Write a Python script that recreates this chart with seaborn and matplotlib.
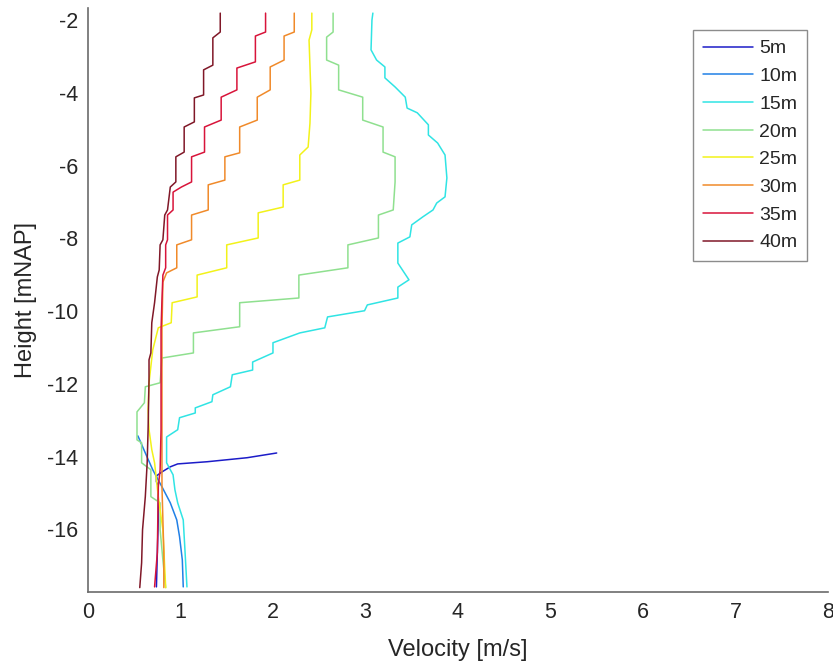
import numpy as np
import pandas as pd
import matplotlib
matplotlib.use("Agg")
import matplotlib.pyplot as plt
import seaborn as sns

# ---- data: velocity [m/s] vs height [mNAP] for each distance ----
series_names = ["5m", "10m", "15m", "20m", "25m", "30m", "35m", "40m"]

v_5m = [2.04, 1.72, 1.29, 0.97, 0.89, 0.80, 0.74, 0.74, 0.76, 0.76, 0.75, 0.74]
h_5m = [-13.90, -14.03, -14.14, -14.20, -14.28, -14.42, -14.53, -14.69, -14.80, -15.74, -16.64, -17.58]

v_10m = [0.54, 0.62, 0.70, 0.80, 0.89, 0.96, 0.99, 1.02, 1.03]
h_10m = [-13.43, -13.90, -14.36, -14.83, -15.27, -15.74, -16.20, -16.84, -17.58]

v_15m = [3.08, 3.07, 3.06, 3.12, 3.21, 3.21, 3.32, 3.43, 3.45, 3.56, 3.68, 3.68, 3.78, 3.86,
         3.88, 3.86, 3.77, 3.73, 3.62, 3.50, 3.48, 3.35, 3.35, 3.47, 3.35, 3.35, 3.02, 2.99,
         2.59, 2.56, 2.29, 2.00, 2.00, 1.78, 1.78, 1.56, 1.54, 1.35, 1.34, 1.16, 1.16, 0.99,
         0.97, 0.85, 0.85, 0.92, 0.94, 0.97, 1.03, 1.05, 1.07]
h_15m = [-1.81, -2.00, -2.82, -3.10, -3.29, -3.59, -3.84, -4.12, -4.42, -4.55, -4.88, -5.16,
         -5.38, -5.71, -6.34, -6.86, -7.03, -7.22, -7.41, -7.63, -7.96, -8.13, -8.68, -9.14,
         -9.34, -9.64, -9.83, -9.99, -10.16, -10.46, -10.60, -10.87, -11.15, -11.40, -11.62,
         -11.75, -12.08, -12.30, -12.49, -12.66, -12.80, -12.93, -13.26, -13.46, -14.17,
         -14.50, -14.91, -15.27, -15.74, -16.64, -17.58]

v_20m = [2.65, 2.65, 2.58, 2.58, 2.71, 2.71, 2.97, 2.97, 3.19, 3.19, 3.32, 3.32, 3.30, 3.14,
         3.14, 2.81, 2.81, 2.28, 2.28, 1.64, 1.64, 1.14, 1.14, 0.80, 0.78, 0.62, 0.61, 0.53,
         0.53, 0.58, 0.58, 0.68, 0.68, 0.78, 0.78, 0.81, 0.84]
h_20m = [-1.81, -2.33, -2.47, -3.10, -3.24, -3.92, -4.12, -4.75, -4.94, -5.63, -5.76, -6.45,
         -7.22, -7.36, -7.99, -8.18, -8.81, -9.01, -9.64, -9.77, -10.43, -10.60, -11.15,
         -11.29, -11.97, -12.08, -12.52, -12.77, -13.54, -13.62, -14.17, -14.36, -15.10,
         -15.27, -16.01, -16.84, -17.60]

v_25m = [2.42, 2.42, 2.39, 2.41, 2.40, 2.38, 2.29, 2.29, 2.11, 2.11, 1.84, 1.84, 1.50, 1.50,
         1.18, 1.18, 0.91, 0.90, 0.76, 0.70, 0.66, 0.65, 0.66, 0.69, 0.72, 0.76, 0.81, 0.84]
h_25m = [-1.81, -2.27, -2.55, -4.01, -4.83, -5.49, -5.71, -6.40, -6.53, -7.14, -7.30, -7.99,
         -8.18, -8.81, -9.01, -9.61, -9.77, -10.32, -10.46, -11.07, -11.97, -12.71, -13.26,
         -13.81, -14.17, -15.10, -16.01, -17.60]

v_30m = [2.23, 2.23, 2.12, 2.12, 1.97, 1.97, 1.83, 1.83, 1.64, 1.64, 1.48, 1.48, 1.30, 1.30,
         1.12, 1.12, 0.96, 0.96, 0.85, 0.81, 0.80, 0.80, 0.80, 0.82, 0.82]
h_30m = [-1.81, -2.33, -2.44, -3.10, -3.29, -3.92, -4.12, -4.75, -4.94, -5.65, -5.76, -6.40,
         -6.53, -7.22, -7.36, -8.04, -8.18, -8.81, -8.95, -9.20, -10.52, -12.99, -14.83,
         -16.64, -17.60]

v_35m = [1.92, 1.92, 1.81, 1.81, 1.61, 1.61, 1.44, 1.44, 1.26, 1.26, 1.12, 1.12, 1.01, 0.92,
         0.92, 0.86, 0.86, 0.84, 0.84, 0.81, 0.80, 0.79, 0.79, 0.78, 0.76, 0.75, 0.72]
h_35m = [-1.81, -2.33, -2.44, -3.15, -3.32, -3.92, -4.12, -4.75, -4.94, -5.63, -5.76, -6.45,
         -6.59, -6.73, -7.22, -7.36, -8.04, -8.18, -8.81, -9.01, -9.69, -10.52, -13.26,
         -14.36, -14.83, -16.64, -17.58]

v_40m = [1.43, 1.43, 1.35, 1.35, 1.25, 1.25, 1.15, 1.15, 1.04, 1.04, 0.95, 0.95, 0.89, 0.86,
         0.83, 0.81, 0.78, 0.77, 0.75, 0.72, 0.69, 0.68, 0.66, 0.66, 0.65, 0.64, 0.62, 0.59,
         0.58, 0.56]
h_40m = [-1.81, -2.33, -2.49, -3.24, -3.37, -4.06, -4.14, -4.80, -4.94, -5.63, -5.76, -6.45,
         -6.59, -7.22, -7.36, -8.04, -8.18, -8.87, -9.06, -9.77, -10.32, -11.15, -11.34,
         -11.89, -13.26, -14.17, -15.10, -16.01, -16.92, -17.60]

velocities = [v_5m, v_10m, v_15m, v_20m, v_25m, v_30m, v_35m, v_40m]
heights = [h_5m, h_10m, h_15m, h_20m, h_25m, h_30m, h_35m, h_40m]

x_ticks = [0, 1, 2, 3, 4, 5, 6, 7, 8]
y_ticks = [-16, -14, -12, -10, -8, -6, -4, -2]

colors = ["#1c1cc8", "#2080e6", "#30e4e4", "#8fe08f", "#f2f21a", "#f08a2a", "#d8143a", "#801828"]

# ---- long table ----
rows = []
for name, vs, hs in zip(series_names, velocities, heights):
    for i, (v, h) in enumerate(zip(vs, hs)):
        rows.append({"series": name, "idx": i, "Velocity": v, "Height": h})
df = pd.DataFrame(rows)

sns.set_theme(style="white")
plt.rcParams["font.family"] = ["Liberation Sans", "DejaVu Sans"]
plt.rcParams["axes.unicode_minus"] = False

fig = plt.figure(figsize=(8.33, 6.68), dpi=100)
ax = fig.add_axes([0.1056, 0.1138, 0.8884, 0.8742])

sns.lineplot(data=df, x="Velocity", y="Height", hue="series", hue_order=series_names,
             palette=colors, sort=False, estimator=None, linewidth=1.1, ax=ax)

ax.set_xlim(0, 8)
ax.set_ylim(-17.72, -1.67)
ax.set_xticks(x_ticks)
ax.set_yticks(y_ticks)

axis_col = "#6b6b6b"
for s in ["top", "right"]:
    ax.spines[s].set_visible(False)
for s in ["left", "bottom"]:
    ax.spines[s].set_color(axis_col)
    ax.spines[s].set_linewidth(1.2)
ax.tick_params(axis="both", direction="in", length=5, width=1.0, color="#262626",
               labelsize=15.5, labelcolor="#262626", pad=7)

ax.set_xlabel("Velocity [m/s]", fontsize=17, color="#262626", labelpad=12)
ax.set_ylabel("Height [mNAP]", fontsize=17, color="#262626", labelpad=7)

leg = ax.legend(loc="upper right", bbox_to_anchor=(0.9716, 0.9623), borderaxespad=0,
                fontsize=14, frameon=True, fancybox=False, handlelength=2.6,
                labelspacing=0.52, handletextpad=0.3, borderpad=0.5)
leg.get_frame().set_edgecolor("#707070")
leg.get_frame().set_linewidth(1.0)
for t in leg.get_texts():
    t.set_color("#262626")

fig.savefig("out.png", dpi=100)
